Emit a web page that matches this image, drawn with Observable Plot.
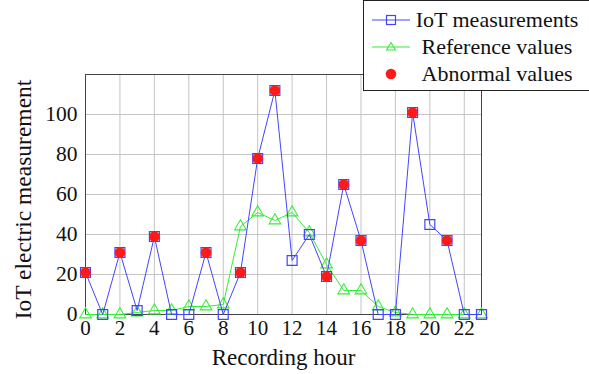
<!DOCTYPE html>
<html>
<head>
<meta charset="utf-8">
<script src="https://cdn.jsdelivr.net/npm/d3@7"></script>
<script src="https://cdn.jsdelivr.net/npm/@observablehq/plot@0.6"></script>
<style>
  html, body { margin: 0; padding: 0; background: white; }
  #wrap { position: relative; width: 589px; height: 374px; overflow: hidden; font-family: "Liberation Serif", serif; }
  #legend { position: absolute; left: 363px; top: 0px; width: 240px; height: 91px; box-sizing: border-box;
            border: 1px solid #222; background: white; }
  .row { position: absolute; left: 0; height: 26px; display: flex; align-items: center; }
  .row svg { position: absolute; left: 6px; }
  .row span { position: absolute; left: 48px; width: 170px; text-align: center; font-size: 22px; color: #111; white-space: nowrap; }
</style>
</head>
<body>
<div id="wrap"><div id="chart"></div><div id="legend"></div></div>
<script>
const hours = d3.range(0, 24);
const iot = [21, 0, 31, 2, 39, 0, 0, 31, 0, 21, 78, 112, 27, 40, 19, 65, 37, 0, 0, 101, 45, 37, 0, 0];
const reference = [0, 0, 0, 1, 2, 2, 4, 4, 5, 44, 51, 47, 51, 41, 25, 12, 12, 4, 1, 0, 0, 0, 0, 0];
const abnormalHours = [0, 2, 4, 7, 9, 10, 11, 14, 15, 16, 19, 21];
const xTicks = [0, 2, 4, 6, 8, 10, 12, 14, 16, 18, 20, 22];
const yTicks = [0, 20, 40, 60, 80, 100];
const seriesNames = ["IoT measurements", "Reference values", "Abnormal values"];
const xLabel = "Recording hour";
const yLabel = "IoT electric measurement";

const BLUE = "#4444ff", GREEN = "#33ee33", RED = "#ff1a1a";

const iotData = hours.map((h, i) => ({h, v: iot[i]}));
const refData = hours.map((h, i) => ({h, v: reference[i]}));
const abnData = abnormalHours.map(h => ({h, v: iot[h]}));

const chart = Plot.plot({
  width: 589, height: 374,
  marginLeft: 85, marginRight: 108, marginTop: 74, marginBottom: 60,
  style: {fontFamily: "Liberation Serif, serif", fontSize: "21px", color: "#111", background: "transparent", overflow: "visible"},
  x: {domain: [0, 23]},
  y: {domain: [0, 120]},
  marks: [
    Plot.gridX(xTicks, {stroke: "#c4c4c4", strokeOpacity: 1}),
    Plot.gridY(yTicks, {stroke: "#c4c4c4", strokeOpacity: 1}),
    Plot.frame({stroke: "#444"}),
    Plot.axisX(xTicks, {tickSize: 0, tickPadding: 6, fontSize: 21, tickFormat: d => String(d), label: null}),
    Plot.axisY(yTicks, {tickSize: 0, tickPadding: 8, fontSize: 21.5, tickFormat: d => String(d), label: null}),
    Plot.text([xLabel], {frameAnchor: "bottom", dy: 43, fontSize: 23, fill: "#111", lineAnchor: "middle", textAnchor: "middle"}),
    Plot.text([yLabel], {frameAnchor: "left", dx: -62, dy: 5, rotate: -90, fontSize: 23.5, fill: "#111", lineAnchor: "middle", textAnchor: "middle"}),
    Plot.line(refData, {x: "h", y: "v", stroke: GREEN, strokeWidth: 1}),
    Plot.dot(refData, {x: "h", y: "v", symbol: "triangle", r: 4.3, stroke: GREEN, fill: "none", strokeWidth: 1.1}),
    Plot.line(iotData, {x: "h", y: "v", stroke: BLUE, strokeWidth: 1}),
    Plot.dot(iotData, {x: "h", y: "v", symbol: "square", r: 5.6, stroke: BLUE, fill: "none", strokeWidth: 1.2}),
    Plot.dot(abnData, {x: "h", y: "v", r: 5.3, fill: RED, stroke: "none"})
  ]
});
document.getElementById("chart").appendChild(chart);

// Legend
const legend = d3.select("#legend");
const rowsY = [6, 33, 60];
seriesNames.forEach((name, i) => {
  const row = legend.append("div").attr("class", "row").style("top", rowsY[i] + "px");
  const s = row.append("svg").attr("width", 42).attr("height", 26);
  if (i === 0) {
    s.append("line").attr("x1", 2).attr("x2", 40).attr("y1", 13).attr("y2", 13).attr("stroke", BLUE);
    s.append("rect").attr("x", 16.5).attr("y", 8.5).attr("width", 9).attr("height", 9).attr("fill", "none").attr("stroke", BLUE).attr("stroke-width", 1.2);
  } else if (i === 1) {
    s.append("line").attr("x1", 2).attr("x2", 40).attr("y1", 13).attr("y2", 13).attr("stroke", GREEN);
    s.append("path").attr("d", "M21,8.5 L25.5,16 L16.5,16 Z").attr("fill", "none").attr("stroke", GREEN).attr("stroke-width", 1.1);
  } else {
    s.append("circle").attr("cx", 21).attr("cy", 13).attr("r", 5.3).attr("fill", RED);
  }
  row.append("span").text(name);
});
</script>
</body>
</html>
